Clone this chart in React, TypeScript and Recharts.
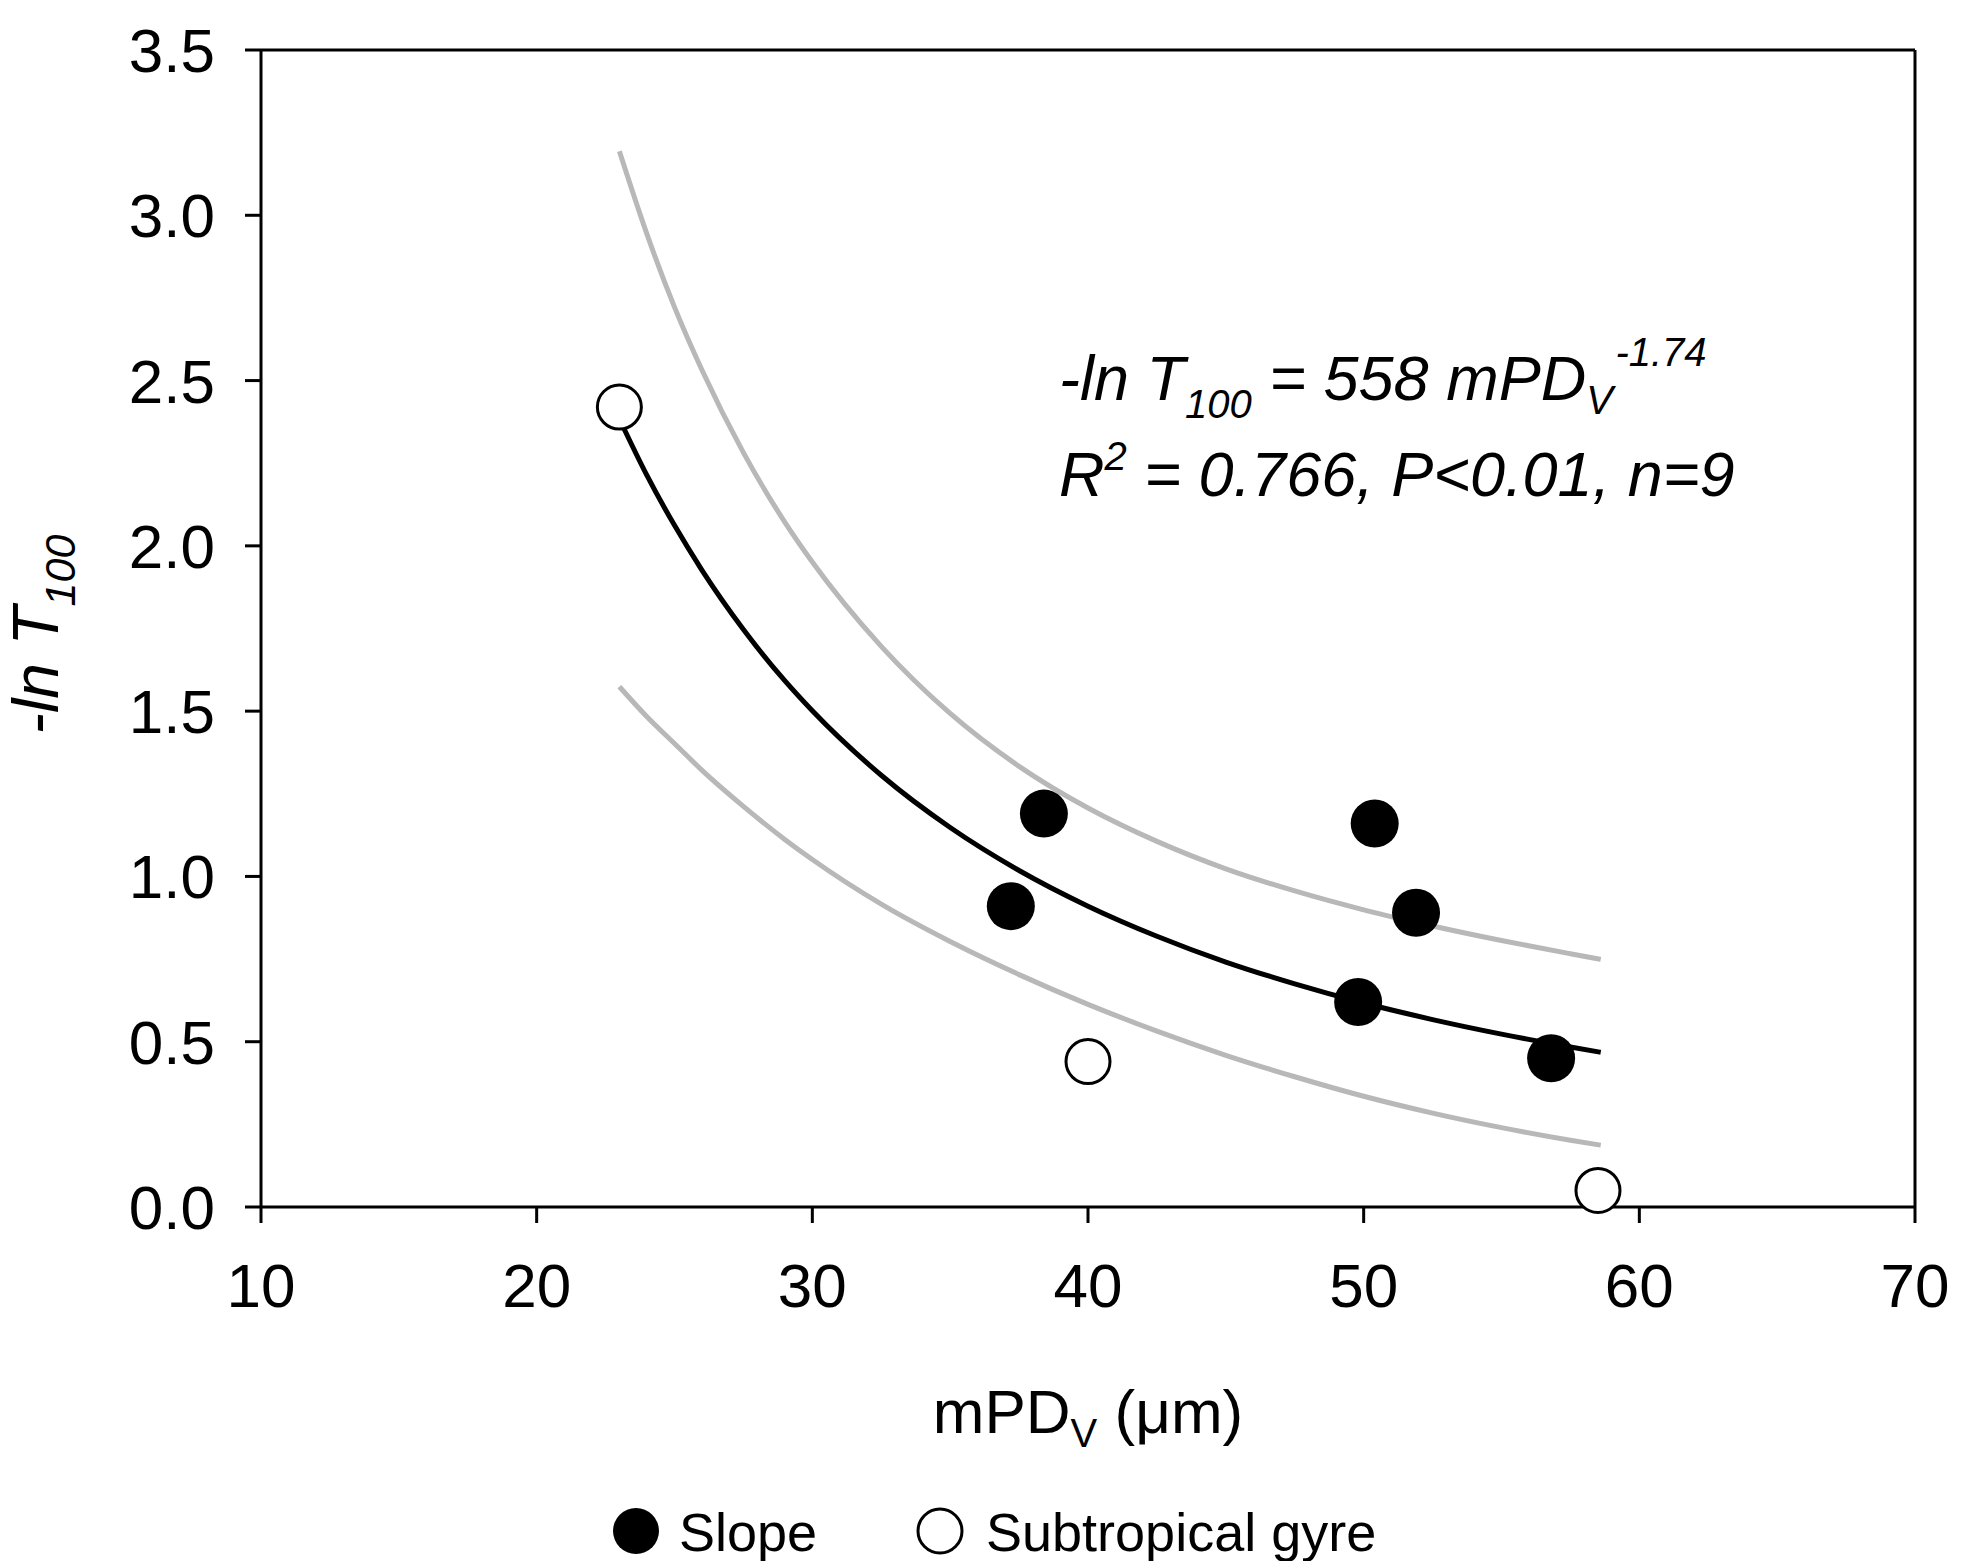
import React from 'react'
import {
  ComposedChart,
  Line,
  Scatter,
  XAxis,
  YAxis,
  ReferenceLine,
  Label,
} from 'recharts'

// points
const slopeX = [38.4, 37.2, 50.4, 51.9, 49.8, 56.8]
const slopeY = [1.19, 0.91, 1.16, 0.89, 0.62, 0.45]
const gyreX = [23.0, 40.0, 58.5]
const gyreY = [2.42, 0.44, 0.05]

// fitted curve and its confidence band, read along x
const curveX = [23, 24, 25, 26, 27.5, 29, 30, 32.5, 35, 37.5, 40, 42.5, 45, 47.5, 50, 52.5, 55, 57.5, 58.6]
const fitY = [2.384, 2.213, 2.062, 1.926, 1.747, 1.592, 1.501, 1.306, 1.148, 1.018, 0.91, 0.819, 0.741, 0.675, 0.617, 0.567, 0.523, 0.484, 0.468]
const upperY = [3.194, 2.943, 2.722, 2.531, 2.282, 2.072, 1.951, 1.696, 1.493, 1.333, 1.207, 1.106, 1.023, 0.956, 0.899, 0.85, 0.806, 0.766, 0.749]
const lowerY = [1.574, 1.483, 1.402, 1.321, 1.212, 1.112, 1.051, 0.916, 0.803, 0.703, 0.613, 0.532, 0.459, 0.394, 0.335, 0.284, 0.24, 0.202, 0.187]

const xTicks = [10, 20, 30, 40, 50, 60, 70]
const yTicks = [0, 0.5, 1, 1.5, 2, 2.5, 3, 3.5]

const zip = (xs: number[], ys: number[]) => xs.map((x, i) => ({ x, y: ys[i] }))

const slope = zip(slopeX, slopeY)
const gyre = zip(gyreX, gyreY)
const fit = zip(curveX, fitY)
const upper = zip(curveX, upperY)
const lower = zip(curveX, lowerY)

const FONT = '"Liberation Sans", Arial, Helvetica, sans-serif'
const GREY = '#b8b8b8'

const FilledDot = (p: any) => <circle cx={p.cx} cy={p.cy} r={24} fill="#000" />
const OpenDot = (p: any) => (
  <circle cx={p.cx} cy={p.cy} r={22} fill="#fff" stroke="#000" strokeWidth={3} />
)

export default function App() {
  return (
    <div
      style={{
        position: 'absolute',
        left: 0,
        top: 0,
        width: 1969,
        height: 1561,
        background: '#fff',
        overflow: 'hidden',
      }}
    >
      <ComposedChart
        width={1969}
        height={1561}
        margin={{ top: 50, right: 54, bottom: 254, left: 101 }}
      >
        <XAxis
          dataKey="x"
          type="number"
          domain={[10, 70]}
          ticks={xTicks}
          height={100}
          tickSize={16}
          tickMargin={40}
          axisLine={{ stroke: '#000', strokeWidth: 3 }}
          tickLine={{ stroke: '#000', strokeWidth: 3 }}
          tick={{ fill: '#000', fontSize: 62, fontFamily: FONT }}
        >
          <Label
            content={(props: any) => {
              const vb = props.viewBox
              const cx = vb.x + vb.width / 2
              return (
                <text x={cx} y={1433} textAnchor="middle" fontFamily={FONT} fontSize={62} fill="#000">
                  <tspan>mPD</tspan>
                  <tspan fontSize={40} dy={14}>V</tspan>
                  <tspan dy={-14}> (μm)</tspan>
                </text>
              )
            }}
          />
        </XAxis>
        <YAxis
          dataKey="y"
          type="number"
          domain={[0, 3.5]}
          ticks={yTicks}
          width={160}
          tickSize={16}
          tickMargin={30}
          tickFormatter={(v: number) => v.toFixed(1)}
          axisLine={{ stroke: '#000', strokeWidth: 3 }}
          tickLine={{ stroke: '#000', strokeWidth: 3 }}
          tick={{ fill: '#000', fontSize: 62, fontFamily: FONT }}
        >
          <Label
            content={(props: any) => {
              const vb = props.viewBox
              const cy = vb.y + vb.height / 2 + 6
              return (
                <text
                  x={58}
                  y={cy}
                  transform={`rotate(-90, 58, ${cy})`}
                  textAnchor="middle"
                  fontFamily={FONT}
                  fontSize={64}
                  fontStyle="italic"
                  fill="#000"
                >
                  <tspan>-ln T</tspan>
                  <tspan fontSize={43} dy={17}>100</tspan>
                </text>
              )
            }}
          />
        </YAxis>

        <ReferenceLine y={3.5} stroke="#000" strokeWidth={3} />
        <ReferenceLine x={70} stroke="#000" strokeWidth={3} />

        <Line
          data={fit}
          dataKey="y"
          type="monotone"
          stroke="#000"
          strokeWidth={5}
          dot={false}
          activeDot={false}
          isAnimationActive={false}
        />
        <Scatter data={slope} shape={FilledDot} isAnimationActive={false} />
        <Scatter data={gyre} shape={OpenDot} isAnimationActive={false} />
        <Line
          data={upper}
          dataKey="y"
          type="monotone"
          stroke={GREY}
          strokeWidth={5}
          dot={false}
          activeDot={false}
          isAnimationActive={false}
        />
        <Line
          data={lower}
          dataKey="y"
          type="monotone"
          stroke={GREY}
          strokeWidth={5}
          dot={false}
          activeDot={false}
          isAnimationActive={false}
        />
      </ComposedChart>

      <svg
        width={1969}
        height={1561}
        style={{ position: 'absolute', left: 0, top: 0, pointerEvents: 'none' }}
      >
        <text x={1059} y={400} fontFamily={FONT} fontSize={63} fontStyle="italic" fill="#000">
          <tspan>-ln T</tspan>
          <tspan fontSize={40} dy={18}>100</tspan>
          <tspan dy={-18}> = 558 mPD</tspan>
          <tspan fontSize={40} dy={14}>V</tspan>
          <tspan fontSize={40} dy={-48} dx={4}>-1.74</tspan>
        </text>
        <text x={1059} y={496} fontFamily={FONT} fontSize={63} fontStyle="italic" fill="#000">
          <tspan>R</tspan>
          <tspan fontSize={40} dy={-26}>2</tspan>
          <tspan dy={26}> = 0.766, P&lt;0.01, n=9</tspan>
        </text>

        <circle cx={636} cy={1531} r={23} fill="#000" />
        <text x={679} y={1551} fontFamily={FONT} fontSize={54} fill="#000">Slope</text>
        <circle cx={940} cy={1531} r={22} fill="#fff" stroke="#000" strokeWidth={3} />
        <text x={986} y={1551} fontFamily={FONT} fontSize={54} fill="#000">Subtropical gyre</text>
      </svg>
    </div>
  )
}
